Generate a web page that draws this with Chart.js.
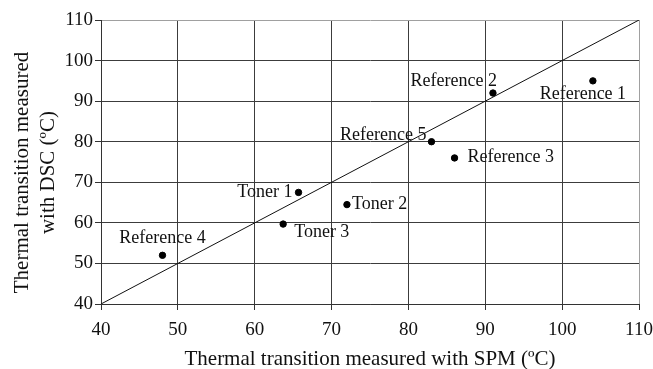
<!DOCTYPE html>
<html>
<head>
<meta charset="utf-8">
<script src="https://cdn.jsdelivr.net/npm/chart.js@4.4.1/dist/chart.umd.min.js"></script>
<style>
  html, body { margin: 0; padding: 0; background: #fff; }
  #wrap { width: 653px; height: 369px; }
</style>
</head>
<body>
<div id="wrap"><canvas id="myChart" width="653" height="369"></canvas></div>
<script>
// sample names and measured transitions (ºC)
var sampleNames = ["Reference 1", "Reference 2", "Reference 3", "Reference 4", "Reference 5", "Toner 1", "Toner 2", "Toner 3"];
var spmValues = [104, 91, 86, 48, 83, 65.7, 72, 63.7];
var dscValues = [95, 92, 76, 52, 80, 67.5, 64.5, 59.7];

// y = x reference line
var lineX = [40, 110];
var lineY = [40, 110];

var axisTicks = [40, 50, 60, 70, 80, 90, 100, 110];

// where each label sits relative to its point (px)
var labelPlace = {
    "Reference 1": {dx: -10, dy: 13, align: "center"},
    "Reference 2": {dx: 4, dy: -12, align: "right"},
    "Reference 3": {dx: 13, dy: -1, align: "left"},
    "Reference 4": {dx: 0, dy: -17, align: "center"},
    "Reference 5": {dx: -5, dy: -6, align: "right"},
    "Toner 1": {dx: -6, dy: 0, align: "right"},
    "Toner 2": {dx: 5, dy: 0, align: "left"},
    "Toner 3": {dx: 11, dy: 8, align: "left"}
};

var serif = "'Liberation Serif', 'Times New Roman', serif";
// the y title sits a little below the middle of the axis, pad its end
var pad = "\u00a0\u00a0\u00a0\u00a0";

var points = [];
for (var i = 0; i < sampleNames.length; i++) {
    points.push({x: spmValues[i], y: dscValues[i]});
}
var linePts = [];
for (var j = 0; j < lineX.length; j++) {
    linePts.push({x: lineX[j], y: lineY[j]});
}

var pointLabels = {
    id: 'pointLabels',
    afterDatasetsDraw: function(chart) {
        var c = chart.ctx;
        var meta = chart.getDatasetMeta(1);
        c.save();
        c.font = "18px " + serif;
        c.fillStyle = "#111";
        c.textBaseline = "middle";
        for (var i = 0; i < sampleNames.length; i++) {
            var el = meta.data[i];
            var p = labelPlace[sampleNames[i]];
            c.textAlign = p.align;
            c.fillText(sampleNames[i], el.x + p.dx, el.y + p.dy);
        }
        c.restore();
    }
};

function gridColor(ctx) {
    return ctx.tick && ctx.tick.value === 110 ? '#a0a0a0' : '#3c3c3c';
}

var myChart = new Chart("myChart", {
    type: 'scatter',
    data: {
        datasets: [{
            type: 'line',
            data: linePts,
            borderColor: '#111',
            borderWidth: 1,
            pointRadius: 0,
            fill: false
        }, {
            data: points,
            backgroundColor: '#000',
            borderColor: '#000',
            pointRadius: 3.2,
            pointHoverRadius: 3.2
        }]
    },
    options: {
        responsive: false,
        animation: false,
        events: [],
        layout: {padding: {top: 20, right: 14, left: 0, bottom: 0}},
        plugins: {legend: {display: false}, tooltip: {enabled: false}},
        scales: {
            x: {
                type: 'linear',
                min: 40, max: 110,
                afterBuildTicks: function(s) { s.ticks = axisTicks.map(function(v) { return {value: v}; }); },
                afterFit: function(s) { s.height = 65; s.paddingLeft = 0; s.paddingRight = 0; },
                grid: {color: gridColor, lineWidth: 1, tickLength: 6, tickColor: '#333'},
                border: {color: '#333', width: 1},
                ticks: {color: '#111', font: {family: serif, size: 19}, padding: 9, maxRotation: 0},
                title: {display: true, text: 'Thermal transition measured with SPM (ºC)', color: '#111',
                        font: {family: serif, size: 21, lineHeight: 0.9}, padding: {top: 0, bottom: 0}}
            },
            y: {
                type: 'linear',
                min: 40, max: 110,
                afterBuildTicks: function(s) { s.ticks = axisTicks.map(function(v) { return {value: v}; }); },
                afterFit: function(s) { s.width = 101; s.paddingTop = 0; s.paddingBottom = 0; },
                grid: {color: gridColor, lineWidth: 1, tickLength: 6, tickColor: '#333'},
                border: {color: '#333', width: 1},
                ticks: {color: '#111', font: {family: serif, size: 19}, padding: 2},
                title: {display: true, text: ['Thermal transition measured' + pad, 'with DSC (ºC)' + pad], color: '#111',
                        font: {family: serif, size: 21, lineHeight: 1.25}, padding: {top: 9, bottom: 0}}
            }
        }
    },
    plugins: [pointLabels]
});
</script>
</body>
</html>
